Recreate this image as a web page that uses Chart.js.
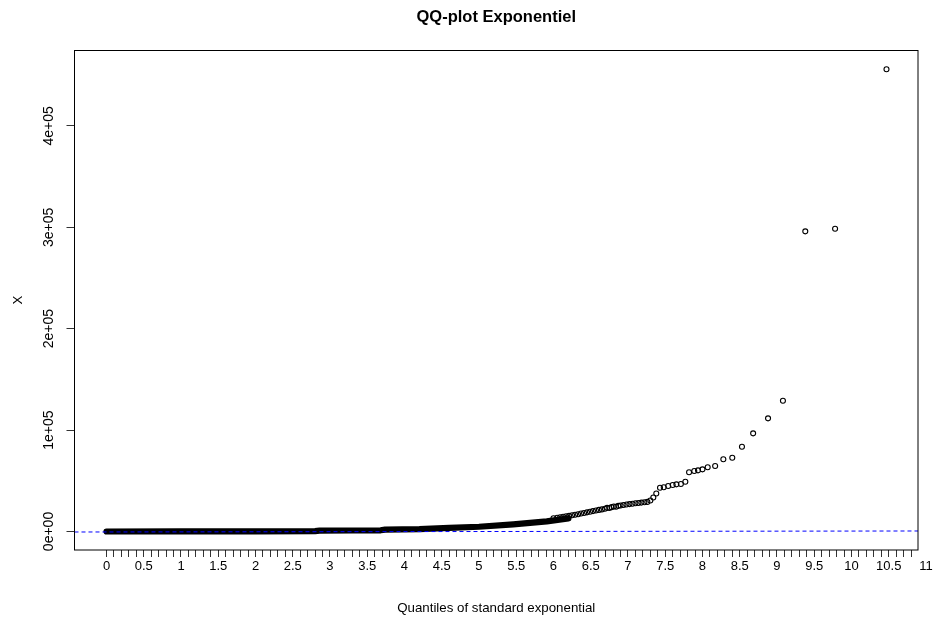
<!DOCTYPE html>
<html>
<head>
<meta charset="utf-8">
<script src="https://cdn.jsdelivr.net/npm/chart.js@4/dist/chart.umd.min.js"></script>
<style>
  html, body { margin: 0; padding: 0; background: #fff; }
  canvas { display: block; }
</style>
</head>
<body>
<canvas id="qq" width="935" height="618"></canvas>
<script>
// Lower part of the sample: observations so dense they merge into a solid band
const bandX = [0, 1.0, 2.0, 2.80, 2.86, 3.30, 3.68, 3.74, 4.20, 4.60, 5.00, 5.46, 5.91, 6.20];
const bandY = [0, 50, 150, 300, 800, 1000, 1200, 1900, 2400, 3500, 4700, 7100, 10000, 13000];

// Upper tail: individual observations (theoretical quantile, sample value)
const tailX = [6.00, 6.05, 6.09, 6.13, 6.17, 6.21, 6.25, 6.29, 6.33, 6.37,
               6.41, 6.45, 6.49, 6.53, 6.57, 6.61, 6.65, 6.69, 6.72, 6.75,
               6.78, 6.81, 6.84, 6.87, 6.90, 6.94, 6.98, 7.02, 7.06, 7.10,
               7.14, 7.18, 7.22, 7.26, 7.30, 7.34, 7.38,
               7.43, 7.48, 7.54, 7.60, 7.65, 7.71, 7.77, 7.82, 7.89, 7.94,
               8.00, 8.07, 8.17, 8.28, 8.40, 8.53, 8.68, 8.88, 9.08, 9.38,
               9.78, 10.47];
const tailY = [13000, 13500, 14000, 14500, 15000, 15400, 16000, 16500, 17000, 17700,
               18300, 18900, 19500, 20100, 20700, 21300, 21800, 22500, 23300, 23200,
               24000, 24600, 24400, 25300, 25700, 26200, 26600, 27000, 27400, 27800,
               28100, 28500, 28800, 29200, 30500, 33500, 37500,
               43200, 43600, 44900, 45900, 46500, 46800, 49100, 58400, 59600, 60300,
               61300, 63300, 64600, 71200, 72800, 83600, 96800, 111600, 129000, 296000,
               298600, 455800];

// Reference line across the plotting region
const refX = [-0.4295, 10.893];
const refY = [-500, 500];

// Axes
const xRange = [-0.4295, 10.893];
const yRange = [-18250, 474850];
const xLabelValues = [0, 0.5, 1, 1.5, 2, 2.5, 3, 3.5, 4, 4.5, 5, 5.5,
                      6, 6.5, 7, 7.5, 8, 8.5, 9, 9.5, 10, 10.5, 11];
const xLabelTexts = ['0', '0.5', '1', '1.5', '2', '2.5', '3', '3.5', '4', '4.5', '5', '5.5',
                     '6', '6.5', '7', '7.5', '8', '8.5', '9', '9.5', '10', '10.5', '11'];
const yTickValues = [0, 100000, 200000, 300000, 400000];
const yTickLabels = ['0e+00', '1e+05', '2e+05', '3e+05', '4e+05'];

const FONT = "'Liberation Sans', Arial, Helvetica, sans-serif";

const toPoints = (xs, ys) => xs.map((x, i) => ({ x: x, y: ys[i] }));

// minor ticks every 0.1 along the x axis
const xMinorTicks = [];
for (let k = 0; k <= 110; k++) xMinorTicks.push(k / 10);

function xLabelFor(v) {
  for (let i = 0; i < xLabelValues.length; i++) {
    if (Math.abs(xLabelValues[i] - v) < 1e-6) return xLabelTexts[i];
  }
  return '';
}

// plot frame (box around the panel)
const frame = {
  id: 'frame',
  afterDatasetsDraw(chart) {
    const { ctx, chartArea: a } = chart;
    ctx.save();
    ctx.strokeStyle = '#000';
    ctx.lineWidth = 1;
    ctx.strokeRect(a.left, a.top + 0.5, a.right - a.left, a.bottom - a.top - 0.5);
    ctx.restore();
  }
};

new Chart(document.getElementById('qq'), {
  type: 'scatter',
  data: {
    datasets: [
      {
        label: 'ref',
        data: toPoints(refX, refY),
        showLine: true,
        borderColor: 'blue',
        borderWidth: 1,
        borderDash: [4, 3],
        pointRadius: 0,
        order: 0
      },
      {
        label: 'tail',
        data: toPoints(tailX, tailY),
        showLine: false,
        pointStyle: 'circle',
        pointRadius: 2.5,
        borderWidth: 1.1,
        borderColor: '#000',
        backgroundColor: 'rgba(0,0,0,0)',
        order: 1
      },
      {
        label: 'band',
        data: toPoints(bandX, bandY),
        showLine: true,
        borderColor: '#000',
        borderWidth: 6.2,
        borderCapStyle: 'round',
        borderJoinStyle: 'round',
        pointRadius: 0,
        tension: 0,
        order: 2
      }
    ]
  },
  options: {
    responsive: false,
    animation: false,
    devicePixelRatio: 1,
    layout: { padding: { left: 0, right: 17, top: 0, bottom: 0 } },
    plugins: {
      legend: { display: false },
      tooltip: { enabled: false },
      title: {
        display: true,
        text: 'QQ-plot Exponentiel',
        fullSize: false,
        color: '#000',
        font: { family: FONT, size: 16.5, weight: 'bold', lineHeight: 1.2 },
        padding: { top: 7.5, bottom: 22.7 }
      }
    },
    scales: {
      x: {
        type: 'linear',
        position: 'bottom',
        min: xRange[0],
        max: xRange[1],
        afterBuildTicks: (scale) => { scale.ticks = xMinorTicks.map(v => ({ value: v })); },
        afterFit: (scale) => { scale.height = 68; },
        border: { display: false },
        grid: {
          drawOnChartArea: false,
          drawTicks: true,
          tickLength: 7,
          tickColor: (ctx) => (ctx.tick && ctx.tick.value > 10.85 ? 'rgba(0,0,0,0)' : '#333'),
          tickWidth: 1
        },
        ticks: {
          autoSkip: false,
          maxRotation: 0,
          minRotation: 0,
          padding: 2,
          color: '#000',
          font: { family: FONT, size: 13 },
          callback: (v) => xLabelFor(v)
        },
        title: {
          display: true,
          text: 'Quantiles of standard exponential',
          color: '#000',
          font: { family: FONT, size: 13.3, lineHeight: 1.2 },
          padding: { top: 0, bottom: 2 }
        }
      },
      y: {
        type: 'linear',
        position: 'left',
        min: yRange[0],
        max: yRange[1],
        afterBuildTicks: (scale) => { scale.ticks = yTickValues.map(v => ({ value: v })); },
        afterFit: (scale) => { scale.width = 74.5; },
        border: { display: false },
        grid: {
          drawOnChartArea: false,
          drawTicks: true,
          tickLength: 8,
          tickColor: '#333',
          tickWidth: 1
        },
        ticks: {
          autoSkip: false,
          minRotation: 90,
          maxRotation: 90,
          crossAlign: 'center',
          padding: -2.5,
          color: '#000',
          font: { family: FONT, size: 14 },
          callback: (v, i) => yTickLabels[i]
        },
        title: {
          display: true,
          text: 'X',
          color: '#000',
          font: { family: FONT, size: 13.3, lineHeight: 1.2 },
          padding: { top: 10, bottom: 0 }
        }
      }
    }
  },
  plugins: [frame]
});
</script>
</body>
</html>
